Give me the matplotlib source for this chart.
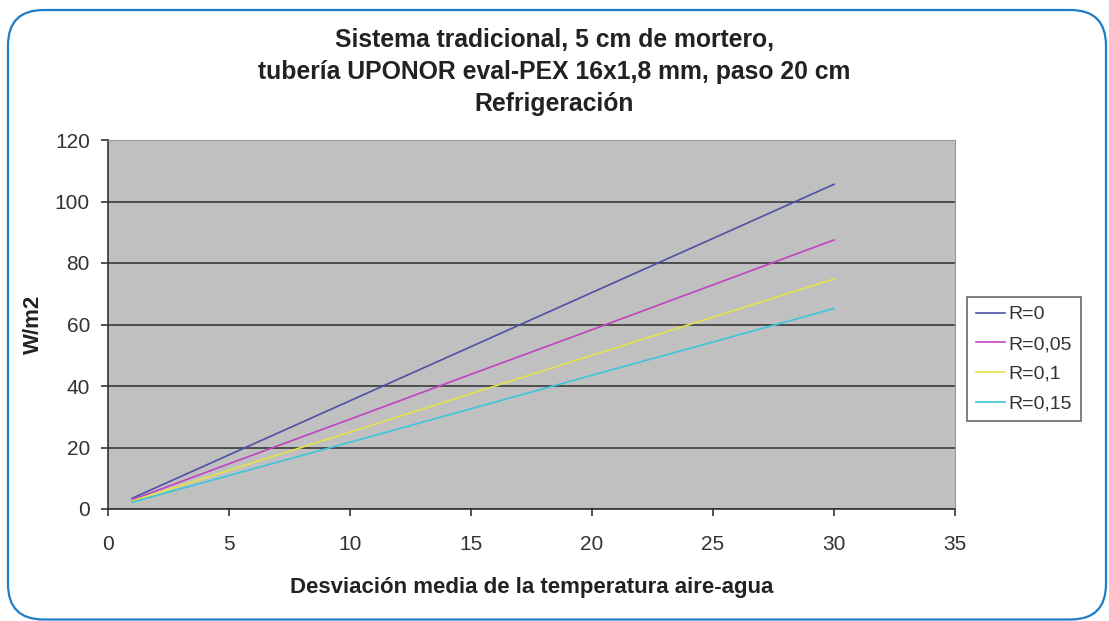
import matplotlib
matplotlib.use("Agg")
import matplotlib.pyplot as plt
from matplotlib.patches import FancyBboxPatch

plt.rcParams['font.family'] = ['Liberation Sans', 'DejaVu Sans']

# Mean air-water temperature deviation (K) and cooling output (W/m2)
deviation = [1, 5, 10, 15, 20, 25, 30]
series_labels = ["R=0", "R=0,05", "R=0,1", "R=0,15"]
r_000 = [3.5, 17.6, 35.2, 52.8, 70.4, 88.0, 105.6]
r_005 = [3.0, 14.7, 29.2, 43.8, 58.3, 72.9, 87.5]
r_010 = [2.6, 12.6, 25.0, 37.5, 50.0, 62.4, 74.8]
r_015 = [2.2, 10.9, 21.7, 32.6, 43.5, 54.3, 65.2]
series_colors = ["#4f4fa6", "#c243c2", "#e2e24a", "#3cc4da"]

x_ticks = [0, 5, 10, 15, 20, 25, 30, 35]
y_ticks = [0, 20, 40, 60, 80, 100, 120]

W, H = 1109, 621
fig = plt.figure(figsize=(W / 100, H / 100), dpi=100)
fig.patch.set_facecolor("white")

# Rounded blue frame around the chart
frame = FancyBboxPatch((8 / W, 1.5 / H), (1106 - 8) / W, (H - 11.5) / H,
                       boxstyle="round,pad=0,rounding_size=0.032",
                       transform=fig.transFigure, facecolor="none",
                       edgecolor="#1f7cc6", linewidth=1.6, zorder=5,
                       mutation_aspect=W / H)
fig.patches.append(frame)

left, right, top, bottom = 108, 955, 140, 509
ax = fig.add_axes([left / W, 1 - bottom / H, (right - left) / W, (bottom - top) / H])
ax.set_facecolor("#c0c0c0")

for ys, lab, col in zip([r_000, r_005, r_010, r_015], series_labels, series_colors):
    ax.plot(deviation, ys, color=col, linewidth=1.2, label=lab)

ax.set_xlim(0, 35)
ax.set_ylim(0, 120)
ax.set_xticks(x_ticks)
ax.set_yticks(y_ticks)
ax.tick_params(labelsize=15, colors="#333333", length=5, width=1.2)
ax.tick_params(axis="x", pad=14)
ax.tick_params(axis="y", pad=8)
ax.grid(axis="y", color="#3a3a3a", linewidth=1.2)
ax.set_axisbelow(True)
for s in ["top", "right"]:
    ax.spines[s].set_color("#999999")
for s in ["left", "bottom"]:
    ax.spines[s].set_color("#333333")
    ax.spines[s].set_linewidth(1.2)

ax.set_xlabel("Desviación media de la temperatura aire-agua", fontsize=16,
              fontweight="bold", color="#222222", labelpad=16)
ax.set_ylabel("W/m2", fontsize=16, fontweight="bold", color="#222222", labelpad=8)

title_lines = ["Sistema tradicional, 5 cm de mortero,",
               "tubería UPONOR eval-PEX 16x1,8 mm, paso 20 cm",
               "Refrigeración"]
for line, ypix in zip(title_lines, [40, 72, 104]):
    fig.text(0.5, 1 - ypix / H, line, ha="center", va="center",
             fontsize=17.8, fontweight="bold", color="#222222")

leg = ax.legend(loc="upper left", bbox_to_anchor=(967 / W, 1 - 297 / H),
                bbox_transform=fig.transFigure, fontsize=14, frameon=True,
                fancybox=False, edgecolor="#444444", handlelength=1.5,
                labelspacing=0.62, borderpad=0.45, handletextpad=0.2,
                borderaxespad=0)
leg.get_frame().set_linewidth(1.2)
for t in leg.get_texts():
    t.set_color("#333333")

fig.savefig("out.png", dpi=100)
